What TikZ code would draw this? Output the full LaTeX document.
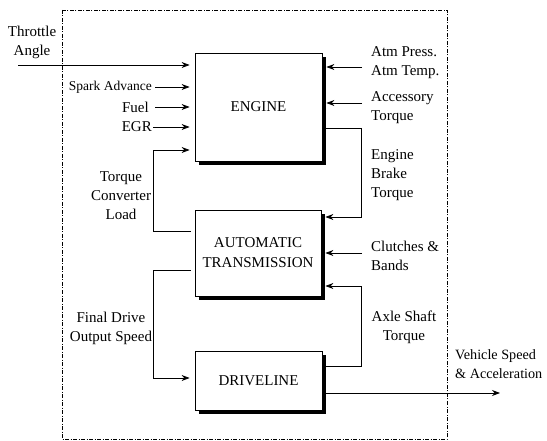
\documentclass[tikz,border=0pt]{standalone}
\usepackage{fontspec}
\setmainfont{Liberation Serif}
\usetikzlibrary{arrows.meta,shadows,calc}
\begin{document}
\begin{tikzpicture}[x=1pt,y=-1pt,
  box/.style={draw, fill=white, line width=0.8pt, inner sep=0pt, align=center,
    font=\fontsize{15}{20}\selectfont,
    general shadow={fill=black, shadow xshift=4pt, shadow yshift=-4pt}},
  lbl/.style={inner sep=0pt, font=\fontsize{15}{19}\selectfont},
  arr/.style={line width=0.8pt, -{Stealth[length=8pt,width=6pt]}},
  frame/.style={line width=0.8pt, dash pattern=on 4pt off 1.5pt on 1pt off 1.5pt}]
\useasboundingbox (0,0) rectangle (547,441);
\draw[frame] (62,10) rectangle (447,439);
% blocks
\node[box, minimum width=127pt, minimum height=108pt] (engine) at (258.5,107) {ENGINE};
\node[box, minimum width=126pt, minimum height=86pt] (trans) at (258,253) {AUTOMATIC\\TRANSMISSION};
\node[box, minimum width=127pt, minimum height=59pt] (drive) at (258.5,380.5) {DRIVELINE};
% left inputs
\node[lbl, align=center, anchor=north] (thr) at (32,26) {Throttle\\Angle};
\coordinate (thrin) at (18,65);
\draw[arr, shorten >=5pt] (thrin) -- (engine.west |- thrin);
\node[lbl, font=\fontsize{13.5}{16}\selectfont, anchor=east] (spark) at (152,87) {Spark Advance};
\draw[arr, shorten <=3pt, shorten >=5pt] (spark.east) -- (engine.west |- spark.east);
\node[lbl, anchor=east] (fuel) at (149,107) {Fuel};
\draw[arr, shorten <=6pt, shorten >=5pt] (fuel.east) -- (engine.west |- fuel.east);
\node[lbl, anchor=east] (egr) at (152,127) {EGR};
\draw[arr, shorten <=1pt, shorten >=5pt] (egr.east) -- (engine.west |- egr.east);
% torque converter load
\node[lbl, align=center, anchor=north] (tcl) at (121,171) {Torque\\Converter\\Load};
\draw[arr, shorten <=4pt, shorten >=5pt] ([yshift=22pt]trans.west) -- ++(-41,0) |- ([yshift=-43pt]engine.west);
% final drive
\node[lbl, align=center, anchor=north] (fdo) at (111,312) {Final Drive\\Output Speed};
\draw[arr, shorten <=4pt, shorten >=5pt] ([yshift=-17pt]trans.west) -- ++(-41,0) |- ([yshift=2.5pt]drive.west);
% right inputs
\node[lbl, align=left, anchor=north west] (atm) at (371,46) {Atm Press.\\Atm Temp.};
\coordinate (atmin) at (362,67);
\draw[arr, shorten >=4pt] (atmin) -- (engine.east |- atmin);
\node[lbl, align=left, anchor=north west] (acc) at (371,91) {Accessory\\Torque};
\coordinate (accin) at (362,103);
\draw[arr, shorten >=4pt] (accin) -- (engine.east |- accin);
\node[lbl, align=left, anchor=north west] (ebt) at (371,149) {Engine\\Brake\\Torque};
\draw[arr, shorten <=4pt, shorten >=4pt] ([yshift=-21pt]engine.east) -- ++(39,0) |- ([yshift=36pt]trans.east);
\node[lbl, align=left, anchor=north west] (clu) at (371,241) {Clutches \&\\Bands};
\coordinate (cluin) at (362,253);
\draw[arr, shorten >=4pt] (cluin) -- (trans.east |- cluin);
\node[lbl, align=center, anchor=north] (axle) at (404,311) {Axle Shaft\\Torque};
\draw[arr, shorten <=4pt, shorten >=4pt] ([yshift=14.5pt]drive.east) -- ++(39,0) |- ([yshift=-33pt]trans.east);
% output
\node[lbl, font=\fontsize{14.2}{19}\selectfont, align=left, anchor=north west] (veh) at (455,349) {Vehicle Speed\\\& Acceleration};
\coordinate (vout) at (500,393);
\draw[arr, shorten <=4pt] ([yshift=-12.5pt]drive.east) -- (vout);
\end{tikzpicture}
\end{document}
